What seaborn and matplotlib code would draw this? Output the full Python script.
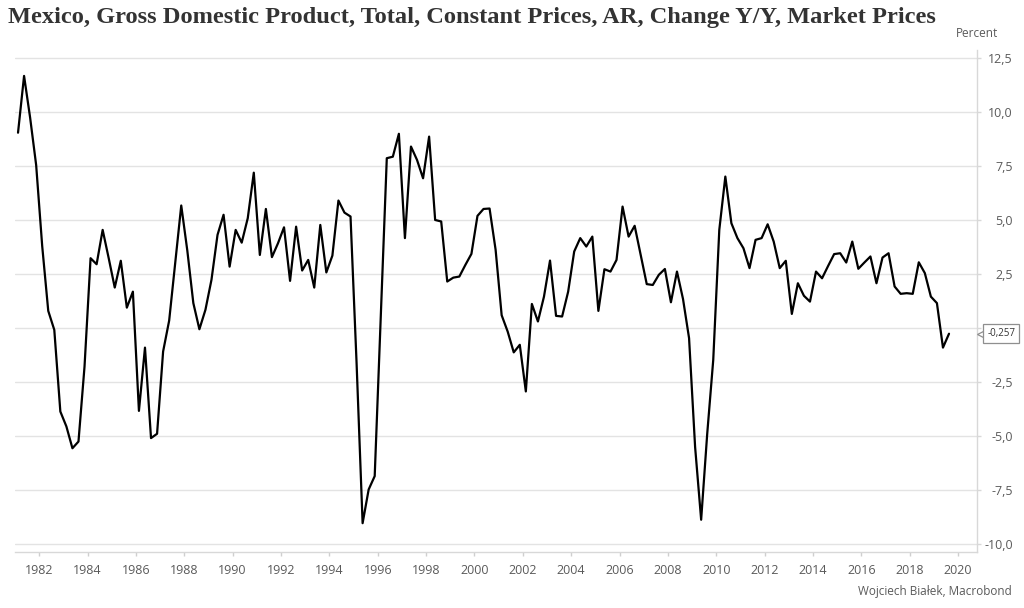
import numpy as np
import pandas as pd
import matplotlib
matplotlib.use("Agg")
import matplotlib.pyplot as plt
import seaborn as sns

# ---------------- data ----------------
title = "Mexico, Gross Domestic Product, Total, Constant Prices, AR, Change Y/Y, Market Prices"
unit_label = "Percent"
source_label = "Wojciech Białek, Macrobond"
start_period = "1981Q1"
gdp_yoy = [
    9.05, 11.68, 9.75, 7.55, 3.8, 0.8, -0.08, -3.86, -4.55, -5.56,
    -5.25, -1.78, 3.24, 2.96, 4.55, 3.24, 1.88, 3.12, 0.95, 1.69,
    -3.83, -0.9, -5.09, -4.89, -1.08, 0.35, 3.0, 5.68, 3.6, 1.16,
    -0.05, 0.85, 2.24, 4.32, 5.25, 2.85, 4.55, 3.96, 5.09, 7.2,
    3.39, 5.52, 3.29, 3.93, 4.67, 2.19, 4.7, 2.67, 3.16, 1.88,
    4.78, 2.58, 3.36, 5.91, 5.35, 5.17, -1.6, -9.03, -7.47, -6.85,
    0.5, 7.87, 7.94, 9.0, 4.17, 8.41, 7.79, 6.94, 8.87, 5.01,
    4.94, 2.16, 2.34, 2.39, 2.93, 3.44, 5.2, 5.52, 5.54, 3.63,
    0.6, -0.16, -1.12, -0.77, -2.93, 1.12, 0.31, 1.46, 3.13, 0.57,
    0.54, 1.69, 3.55, 4.17, 3.78, 4.24, 0.8, 2.73, 2.62, 3.16,
    5.63, 4.24, 4.74, 3.39, 2.04, 2.0, 2.47, 2.74, 1.2, 2.62,
    1.35, -0.46, -5.5, -8.87, -4.9, -1.47, 4.55, 7.02, 4.86, 4.17,
    3.7, 2.78, 4.09, 4.17, 4.81, 4.01, 2.78, 3.12, 0.66, 2.08,
    1.5, 1.23, 2.62, 2.31, 2.88, 3.43, 3.47, 3.04, 4.01, 2.75,
    3.04, 3.32, 2.08, 3.27, 3.47, 1.93, 1.59, 1.62, 1.59, 3.05,
    2.55, 1.46, 1.16, -0.9, -0.257,
]
x_tick_years = list(range(1982, 2021, 2))
y_tick_values = [-10.0, -7.5, -5.0, -2.5, 0.0, 2.5, 5.0, 7.5, 10.0, 12.5]
# the 0,0 label sits under the last-value callout in the reference, so it is left blank
y_tick_labels = ["" if v == 0 else f"{v:.1f}".replace(".", ",") for v in y_tick_values]

# ---------------- frame ----------------
periods = pd.period_range(start_period, periods=len(gdp_yoy), freq="Q")
df = pd.DataFrame({
    "t": periods.year + (periods.quarter - 1) / 4 + 0.125,
    "value": gdp_yoy,
})

# ---------------- style ----------------
sns.set_theme(style="white")
plt.rcParams["font.family"] = ["Open Sans", "DejaVu Sans"]
plt.rcParams["axes.unicode_minus"] = False

grid_c = "#e3e3e3"
text_c = "#5a5a5a"

fig = plt.figure(figsize=(10.24, 6.08), dpi=100)
ax = fig.add_axes([15 / 1024, 1 - 551.7 / 608, (976.7 - 15) / 1024, (551.7 - 50) / 608])

sns.lineplot(data=df, x="t", y="value", ax=ax, color="black", linewidth=1.6, zorder=3)

ax.set_xlim(1981.0, 2020.77)
ax.set_ylim(-10.35, 12.88)

ax.yaxis.tick_right()
ax.set_yticks(y_tick_values)
ax.set_yticklabels(y_tick_labels)
ax.set_xticks(x_tick_years)
ax.set_xticklabels([str(y) for y in x_tick_years])
ax.set_xlabel("")
ax.set_ylabel("")

ax.grid(axis="y", color=grid_c, linewidth=1.0)
ax.grid(axis="x", visible=False)
ax.set_axisbelow(True)

for s in ["left", "top"]:
    ax.spines[s].set_visible(False)
for s in ["right", "bottom"]:
    ax.spines[s].set_color("#d8d8d8")
    ax.spines[s].set_linewidth(1.0)

ax.tick_params(axis="y", which="both", direction="out", length=3, width=1,
               color="#d8d8d8", labelsize=9, labelcolor=text_c, pad=23, right=True, left=False)
ax.tick_params(axis="x", which="both", direction="out", length=3, width=1,
               color="#cfcfcf", labelsize=9, labelcolor=text_c, pad=6, bottom=True)
for lab in ax.get_yticklabels():
    lab.set_horizontalalignment("right")

# title, unit, source
fig.text(8 / 1024, 1 - 18 / 608, title, family=["Liberation Serif", "DejaVu Serif"],
         fontweight="bold", fontsize=17.6, color="#333333", va="center", ha="left")
ax.text(1.0, 1.0 + 10 / 501.7, unit_label, transform=ax.transAxes, ha="center", va="bottom",
        fontsize=8.5, color=text_c)
fig.text(1012 / 1024, 1 - 591 / 608, source_label, ha="right", va="center",
         fontsize=8.5, color=text_c)

# last-value callout
last = gdp_yoy[-1]
last_txt = f"{last:.3f}".replace(".", ",")
ax.plot([1.0 + 6 / 961.7], [last], marker="<", markersize=8, markerfacecolor="white",
        markeredgecolor="#8f8f8f", markeredgewidth=0.9, clip_on=False,
        transform=ax.get_yaxis_transform(), zorder=5)
ax.annotate(last_txt, xy=(1.0, last), xycoords=("axes fraction", "data"),
            xytext=(7.5, 0), textcoords="offset points", ha="left", va="center",
            fontsize=7, color="#333333", zorder=6, annotation_clip=False,
            bbox=dict(boxstyle="square,pad=0.4", fc="white", ec="#8f8f8f", lw=0.9))

fig.savefig("out.png", dpi=100)
